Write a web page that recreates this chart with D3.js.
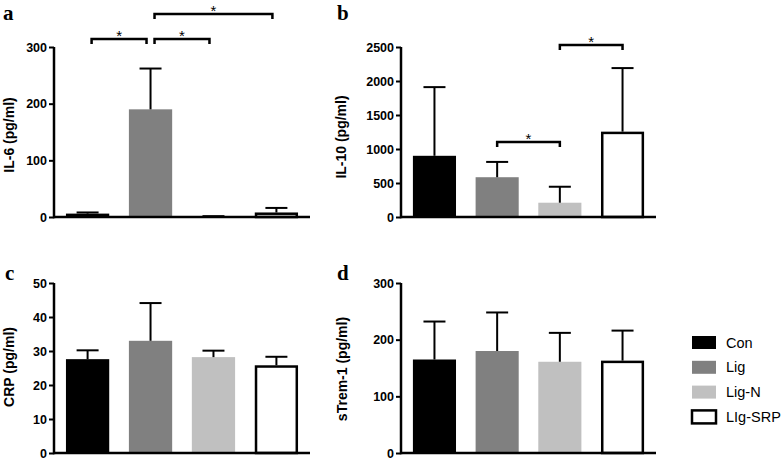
<!DOCTYPE html>
<html><head><meta charset="utf-8">
<script src="https://cdn.jsdelivr.net/npm/d3@7/dist/d3.min.js"></script>
<style>body{margin:0;background:#fff}svg{display:block}</style>
</head><body>
<svg id="chart" width="784" height="462"></svg>
<script>
const categories = ["Con", "Lig", "Lig-N", "LIg-SRP"];
const legendLabels = ["Con", "Lig", "Lig-N", "LIg-SRP"];
const panelLetters = ["a", "b", "c", "d"];
const yTitles = ["IL-6 (pg/ml)", "IL-10 (pg/ml)", "CRP (pg/ml)", "sTrem-1 (pg/ml)"];
const yMax = [300, 2500, 50, 300];
const yTicks = [[0,100,200,300],[0,500,1000,1500,2000,2500],[0,10,20,30,40,50],[0,100,200,300]];
const il6Mean = [6, 190, 1, 8];
const il6Err = [2, 72, 0.5, 8];
const il10Mean = [900, 585, 210, 1255];
const il10Err = [1010, 225, 235, 935];
const crpMean = [27.6, 33.0, 28.2, 25.8];
const crpErr = [2.6, 11.1, 1.9, 2.5];
const strem1Mean = [165, 180, 161, 163];
const strem1Err = [67, 68, 51, 53];
// significance brackets: [fromIndex, toIndex, level]
const il6Sig = [[0,1,0],[1,2,0],[1,3,1]];
const il10Sig = [[1,2,0],[2,3,1]];

const means = [il6Mean, il10Mean, crpMean, strem1Mean];
const errs = [il6Err, il10Err, crpErr, strem1Err];
const sigs = [il6Sig, il10Sig, [], []];
const fills = ["#000000", "#808080", "#c0c0c0", "#ffffff"];

const svg = d3.select("#chart");
const layout = [
  {x0:54, x1:310, top:47, bottom:217, lx:3, ly:20, tx:9, ty:135, sigY:[39,14], inset:4},
  {x0:401, x1:656, top:47, bottom:217, lx:337, ly:20, tx:341, ty:137, sigY:[142,45], inset:0},
  {x0:54, x1:310, top:283, bottom:453, lx:5, ly:280, tx:9, ty:367},
  {x0:401, x1:656, top:283, bottom:453, lx:337, ly:280, tx:342, ty:369}
];

layout.forEach((L, p) => {
  const g = svg.append("g");
  const x = d3.scaleBand().domain(categories).range([L.x0, L.x1]).paddingInner(0.3125).paddingOuter(0.19);
  const y = d3.scaleLinear().domain([0, yMax[p]]).range([L.bottom, L.top]);

  // bars
  g.selectAll("rect.bar").data(categories).enter().append("rect")
    .attr("x", (d,i) => x(d) + (i===3 ? 1.25 : 0))
    .attr("width", (d,i) => x.bandwidth() - (i===3 ? 2.5 : 0))
    .attr("y", (d,i) => y(means[p][i]) + (i===3 ? 1.25 : 0))
    .attr("height", (d,i) => Math.max(0, L.bottom - y(means[p][i]) - (i===3 ? 1.25 : 0)))
    .attr("fill", (d,i) => fills[i])
    .attr("stroke", (d,i) => i===3 ? "#000" : "none")
    .attr("stroke-width", 2.5);

  // error bars
  categories.forEach((c, i) => {
    const cx = x(c) + x.bandwidth()/2;
    const yt = y(means[p][i] + errs[p][i]);
    g.append("line").attr("x1", cx).attr("x2", cx).attr("y1", y(means[p][i])).attr("y2", yt)
      .attr("stroke", "#000").attr("stroke-width", 2);
    g.append("line").attr("x1", cx - 11).attr("x2", cx + 11).attr("y1", yt).attr("y2", yt)
      .attr("stroke", "#000").attr("stroke-width", 2);
  });

  // axes
  const ax = g.append("g").attr("transform", `translate(${L.x0},0)`)
    .call(d3.axisLeft(y).tickValues(yTicks[p]).tickSize(5).tickPadding(2).tickFormat(d3.format("d")));
  ax.select(".domain").attr("stroke-width", 2.5).attr("d", `M0,${L.top}V${L.bottom+1.25}`);
  ax.selectAll(".tick line").attr("stroke-width", 2);
  ax.selectAll(".tick text").attr("font-family", "Liberation Sans, Arial, sans-serif")
    .attr("font-weight", "bold").attr("font-size", 12.5).attr("fill", "#000");
  g.append("line").attr("x1", L.x0).attr("x2", L.x1).attr("y1", L.bottom).attr("y2", L.bottom)
    .attr("stroke", "#000").attr("stroke-width", 2.5);

  // y title
  g.append("text").attr("transform", `translate(${L.tx},${L.ty}) rotate(-90)`)
    .attr("text-anchor", "middle").attr("dominant-baseline", "central")
    .attr("font-family", "Liberation Sans, Arial, sans-serif").attr("font-weight", "bold")
    .attr("font-size", 14).text(yTitles[p]);

  // panel letter
  g.append("text").attr("x", L.lx).attr("y", L.ly)
    .attr("font-family", "Liberation Serif, Times New Roman, serif").attr("font-weight", "bold")
    .attr("font-size", 21).text(panelLetters[p]);

  // significance brackets
  sigs[p].forEach(([a, b, lvl]) => {
    const xa = x(categories[a]) + x.bandwidth()/2 + L.inset;
    const xb = x(categories[b]) + x.bandwidth()/2 - L.inset;
    const yy = L.sigY[lvl];
    g.append("path").attr("d", `M${xa},${yy+5}V${yy}H${xb}V${yy+5}`)
      .attr("fill", "none").attr("stroke", "#000").attr("stroke-width", 2.5);
    g.append("text").attr("x", (xa+xb)/2).attr("y", yy + 1.5).attr("text-anchor", "middle")
      .attr("font-family", "Liberation Sans, Arial, sans-serif").attr("font-size", 15).text("*");
  });
});

// legend
const leg = svg.append("g");
legendLabels.forEach((lab, i) => {
  const yy = 336 + i * 24.8;
  leg.append("rect").attr("x", 692).attr("y", yy).attr("width", 24).attr("height", 13)
    .attr("fill", fills[i]).attr("stroke", i===3 ? "#000" : "none").attr("stroke-width", 2.5);
  leg.append("text").attr("x", 726).attr("y", yy + 6.5).attr("dominant-baseline", "central")
    .attr("font-family", "Liberation Sans, Arial, sans-serif").attr("font-size", 14.5).text(lab);
});
</script>
</body></html>
